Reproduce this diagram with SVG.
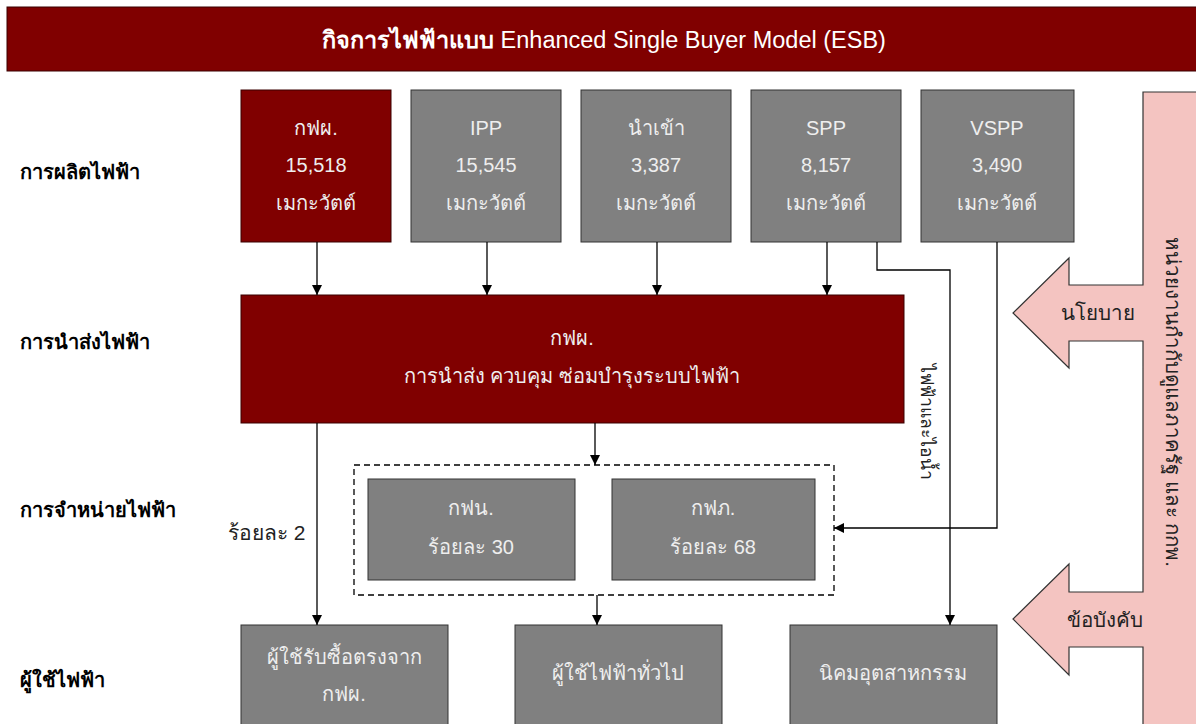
<svg xmlns="http://www.w3.org/2000/svg" width="1196" height="724" viewBox="0 0 1196 724">
<defs>
<marker id="ah" viewBox="0 0 10 10" refX="10" refY="5" markerWidth="10" markerHeight="10" markerUnits="userSpaceOnUse" orient="auto"><path d="M0,0 L10,5 L0,10 Z" fill="#000"/></marker>
<style>
text{font-family:"Liberation Sans","Noto Sans",sans-serif;}
.red{fill:#800000;stroke:#3a0000;stroke-width:1;}
.gray{fill:#808080;stroke:#333;stroke-width:1;}
.bt{fill:#eeeeee;font-size:20px;text-anchor:middle;}
.row{fill:#000;font-size:20px;font-weight:bold;}
.lbl{fill:#222;font-size:20.5px;}
.con{fill:none;stroke:#000;stroke-width:1.3;}
</style>
</defs>
<rect width="1196" height="724" fill="#fff"/>
<g id="title"><rect x="7" y="7" width="1196" height="64" class="red"/>
<text x="604" y="48" fill="#fff" font-size="23.5" text-anchor="middle"><tspan font-weight="bold">กิจการไฟฟ้าแบบ</tspan> Enhanced Single Buyer Model (ESB)</text></g>
<g id="rows">
<text x="20" y="179" class="row">การผลิตไฟฟ้า</text>
<text x="20" y="349" class="row">การนำส่งไฟฟ้า</text>
<text x="20" y="517" class="row">การจำหน่ายไฟฟ้า</text>
<text x="20" y="687" class="row">ผู้ใช้ไฟฟ้า</text>
</g>
<g id="egat-gen"><rect x="241" y="90" width="150" height="152" class="red"/>
<text class="bt" x="316" y="135">กฟผ.</text><text class="bt" x="316" y="172">15,518</text><text class="bt" x="316" y="210">เมกะวัตต์</text></g>
<g id="ipp"><rect x="411" y="90" width="150" height="152" class="gray"/>
<text class="bt" x="486" y="135">IPP</text><text class="bt" x="486" y="172">15,545</text><text class="bt" x="486" y="210">เมกะวัตต์</text></g>
<g id="import"><rect x="581" y="90" width="150" height="152" class="gray"/>
<text class="bt" x="656" y="135">นำเข้า</text><text class="bt" x="656" y="172">3,387</text><text class="bt" x="656" y="210">เมกะวัตต์</text></g>
<g id="spp"><rect x="751" y="90" width="150" height="152" class="gray"/>
<text class="bt" x="826" y="135">SPP</text><text class="bt" x="826" y="172">8,157</text><text class="bt" x="826" y="210">เมกะวัตต์</text></g>
<g id="vspp"><rect x="921" y="90" width="153" height="152" class="gray"/>
<text class="bt" x="997" y="135">VSPP</text><text class="bt" x="997" y="172">3,490</text><text class="bt" x="997" y="210">เมกะวัตต์</text></g>
<g id="transmission"><rect x="241" y="295" width="663" height="128" class="red"/>
<text class="bt" x="572" y="345">กฟผ.</text><text class="bt" x="572" y="383">การนำส่ง ควบคุม ซ่อมบำรุงระบบไฟฟ้า</text></g>
<g id="distribution"><rect x="354" y="465" width="480" height="130" fill="none" stroke="#000" stroke-width="1.3" stroke-dasharray="6,4"/></g>
<g id="mea"><rect x="368" y="479" width="207" height="101" class="gray"/>
<text class="bt" x="471" y="515">กฟน.</text><text class="bt" x="471" y="554">ร้อยละ 30</text></g>
<g id="pea"><rect x="612" y="479" width="203" height="101" class="gray"/>
<text class="bt" x="713" y="515">กฟภ.</text><text class="bt" x="713" y="554">ร้อยละ 68</text></g>
<g id="direct"><rect x="241" y="625" width="207" height="110" class="gray"/>
<text class="bt" x="344" y="664">ผู้ใช้รับซื้อตรงจาก</text><text class="bt" x="344" y="701">กฟผ.</text></g>
<g id="general"><rect x="515" y="625" width="207" height="110" class="gray"/>
<text class="bt" x="618" y="680">ผู้ใช้ไฟฟ้าทั่วไป</text></g>
<g id="estate"><rect x="790" y="625" width="207" height="110" class="gray"/>
<text class="bt" x="893" y="680">นิคมอุตสาหกรรม</text></g>
<g id="regulator">
<path d="M1143,92 H1205 V735 H1143 V647 H1069 V675 L1013,619 L1069,564 V592 H1143 V341 H1069 V368 L1013,313 L1069,258 V285 H1143 Z" fill="#f4c4c1" stroke="#333" stroke-width="1.2"/>
<text x="1098" y="320" class="lbl" text-anchor="middle">นโยบาย</text>
<text x="1105" y="627" class="lbl" text-anchor="middle">ข้อบังคับ</text>
<text transform="translate(1166,402) rotate(90)" class="lbl" style="font-size:20.5px" text-anchor="middle">หน่วยงานกำกับดูแลภาครัฐ และ กกพ.</text>
</g>
<g id="connectors">
<path class="con" d="M317,242 V295" marker-end="url(#ah)"/>
<path class="con" d="M487,242 V295" marker-end="url(#ah)"/>
<path class="con" d="M657,242 V295" marker-end="url(#ah)"/>
<path class="con" d="M827,242 V295" marker-end="url(#ah)"/>
<path class="con" d="M997,242 V528 H834" marker-end="url(#ah)"/>
<path class="con" d="M877,242 V270 H950 V625" marker-end="url(#ah)"/>
<path class="con" d="M317,423 V625" marker-end="url(#ah)"/>
<path class="con" d="M595,423 V465" marker-end="url(#ah)"/>
<path class="con" d="M597,595 V625" marker-end="url(#ah)"/>
<text x="228" y="540" class="lbl" style="font-size:21px">ร้อยละ 2</text>
<text transform="translate(921,422) rotate(90)" class="lbl" style="font-size:17.5px" text-anchor="middle">ไฟฟ้าและไอน้ำ</text>
</g>
</svg>
